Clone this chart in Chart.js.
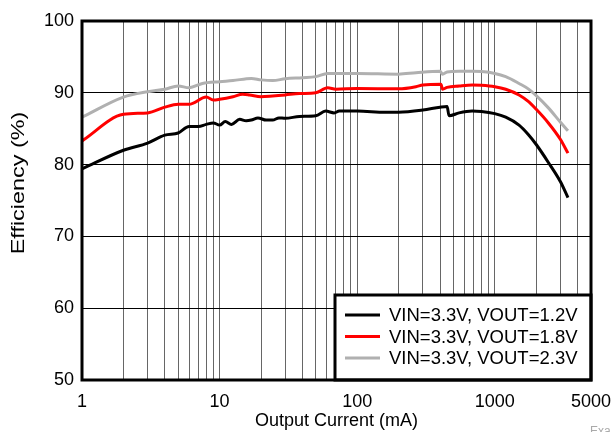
<!DOCTYPE html>
<html>
<head>
<meta charset="utf-8">
<script src="https://cdn.jsdelivr.net/npm/chart.js@4"></script>
<style>
  html, body { margin: 0; padding: 0; background: #fff; }
  #wrap { width: 611px; height: 432px; }
</style>
</head>
<body>
<div id="wrap"><canvas id="effChart" width="611" height="432"></canvas></div>
<script>
// efficiency vs output current
const seriesLabels = ["VIN=3.3V, VOUT=1.2V", "VIN=3.3V, VOUT=1.8V", "VIN=3.3V, VOUT=2.3V"];
const seriesColors = ["#000000", "#ff0000", "#b0b0b0"];

// VOUT=1.2V (black)
const current12 = [1, 2, 3, 4, 5, 6, 7, 8, 9, 10, 11, 12.2, 14, 15.6, 17, 19, 21.8, 24.3, 27, 30, 38, 50, 59, 68, 74, 100, 160, 200, 300, 400, 450, 465, 550, 685, 800, 1000, 1200, 1500, 1750, 2000, 2450, 3000, 3400];
const eff12 = [79.4, 82.0, 83.0, 84.1, 84.4, 85.3, 85.3, 85.6, 85.8, 85.5, 86.0, 85.6, 86.3, 86.1, 86.2, 86.5, 86.2, 86.2, 86.5, 86.45, 86.7, 86.8, 87.45, 87.2, 87.45, 87.45, 87.3, 87.3, 87.6, 88.0, 88.1, 86.8, 87.2, 87.45, 87.4, 87.1, 86.6, 85.5, 84.2, 82.8, 80.3, 77.6, 75.4];

// VOUT=1.8V (red)
const current18 = [1, 2, 3, 4, 5, 6, 8, 9, 10, 12.5, 14.7, 16.5, 20, 24.3, 30, 38, 50, 61, 70, 100, 200, 267, 300, 406, 417, 450, 550, 685, 800, 1000, 1200, 1500, 1750, 2000, 2450, 3000, 3400];
const eff18 = [83.3, 87.0, 87.2, 88.0, 88.4, 88.4, 89.4, 89.0, 89.1, 89.45, 89.8, 89.7, 89.45, 89.55, 89.7, 89.9, 90.0, 90.7, 90.5, 90.6, 90.55, 90.85, 91.1, 91.2, 90.5, 90.75, 90.95, 91.1, 91.05, 90.85, 90.5, 89.7, 88.8, 87.7, 85.8, 83.5, 81.6];

// VOUT=2.3V (gray)
const current23 = [1, 2, 3, 4, 5, 6, 7.5, 10, 12.5, 17, 20, 24.3, 30, 40, 50, 61, 100, 200, 267, 400, 417, 450, 550, 685, 800, 1000, 1200, 1500, 1750, 2000, 2450, 3000, 3400];
const eff23 = [86.6, 89.4, 90.15, 90.5, 90.95, 90.7, 91.3, 91.55, 91.7, 92.0, 91.8, 91.7, 91.95, 92.1, 92.25, 92.7, 92.7, 92.6, 92.8, 93.0, 92.6, 92.9, 93.0, 93.0, 92.95, 92.7, 92.25, 91.3, 90.55, 89.6, 87.9, 85.9, 84.7];

// x grid lines and which of them get a label
const xGridValues = [1, 2, 3, 4, 5, 6, 7, 8, 9, 10, 20, 30, 40, 50, 60, 70, 80, 90, 100, 200, 300, 400, 500, 600, 700, 800, 900, 1000, 2000, 3000, 4000, 5000];
const xTickLabels = [1, 10, 100, 1000, 5000];
const yTitle = "Efficiency (%)";

const toPoints = (xs, ys) => xs.map((x, i) => ({ x: x, y: ys[i] }));
const FONT = "'Liberation Sans', Arial, sans-serif";

Chart.defaults.font.family = FONT;
Chart.defaults.font.size = 18;
Chart.defaults.color = "#000";

// legend box in the lower right corner, heavy frame round the plot, y title
const frameAndLegend = {
  id: "frameAndLegend",
  afterDraw(chart) {
    const { ctx, chartArea } = chart;
    ctx.save();

    const w = 256, h = 85;
    const lx = chartArea.right - w;
    const ly = chartArea.bottom - h;
    ctx.fillStyle = "#fff";
    ctx.fillRect(lx, ly, w, h);
    ctx.lineWidth = 3;
    ctx.strokeStyle = "#000";
    ctx.strokeRect(lx, ly, w, h);

    ctx.font = "18.5px " + FONT;
    ctx.textBaseline = "middle";
    ctx.textAlign = "left";
    chart.data.datasets.forEach((ds, i) => {
      const ry = ly + 20 + i * 21.5;
      ctx.strokeStyle = ds.borderColor;
      ctx.lineWidth = 3;
      ctx.beginPath();
      ctx.moveTo(lx + 10, ry);
      ctx.lineTo(lx + 45, ry);
      ctx.stroke();
      ctx.fillStyle = "#000";
      ctx.fillText(ds.label, lx + 54, ry + 1);
    });

    ctx.lineWidth = 3;
    ctx.strokeStyle = "#000";
    ctx.strokeRect(chartArea.left, chartArea.top, chartArea.right - chartArea.left, chartArea.bottom - chartArea.top);

    // y axis title, drawn a bit stretched like the original
    ctx.save();
    ctx.translate(19, 183);
    ctx.rotate(-Math.PI / 2);
    ctx.scale(1.3, 1);
    ctx.font = "18px " + FONT;
    ctx.fillStyle = "#000";
    ctx.textAlign = "center";
    ctx.textBaseline = "middle";
    ctx.fillText(yTitle, 0, 0);
    ctx.restore();

    // cut-off note in the corner
    ctx.font = "12px " + FONT;
    ctx.fillStyle = "#aaa";
    ctx.textBaseline = "top";
    ctx.fillText("Example", 590, 426);
    ctx.restore();
  }
};

const ctx = document.getElementById("effChart").getContext("2d");
new Chart(ctx, {
  type: "line",
  data: {
    datasets: [
      { label: seriesLabels[0], data: toPoints(current12, eff12), borderColor: seriesColors[0] },
      { label: seriesLabels[1], data: toPoints(current18, eff18), borderColor: seriesColors[1] },
      { label: seriesLabels[2], data: toPoints(current23, eff23), borderColor: seriesColors[2] },
    ],
  },
  options: {
    responsive: false,
    animation: false,
    layout: { padding: { top: 21, right: 0, left: 0, bottom: 0 } },
    elements: {
      point: { radius: 0 },
      line: { borderWidth: 3, cubicInterpolationMode: "monotone", borderJoinStyle: "round" },
    },
    plugins: {
      legend: { display: false },
      tooltip: { enabled: false },
    },
    scales: {
      x: {
        type: "logarithmic",
        min: 1,
        max: 5000,
        afterBuildTicks: (scale) => {
          scale.ticks = xGridValues.map((v) => ({ value: v }));
        },
        afterFit: (scale) => {
          scale.height = 52;
          scale.paddingRight = 20;
        },
        ticks: {
          autoSkip: false,
          maxRotation: 0,
          padding: 11,
          callback: (v) => (xTickLabels.includes(v) ? String(v) : ""),
        },
        grid: { color: "#666", lineWidth: 1, drawTicks: false },
        border: { display: false },
        title: { display: true, text: "Output Current (mA)", padding: { top: 0, bottom: 0 } },
      },
      y: {
        min: 50,
        max: 100,
        afterFit: (scale) => { scale.width = 82; },
        ticks: { stepSize: 10, padding: 8 },
        grid: { color: "#000", lineWidth: 1, drawTicks: false },
        border: { display: false },
        title: { display: false },
      },
    },
  },
  plugins: [frameAndLegend],
});
</script>
</body>
</html>
